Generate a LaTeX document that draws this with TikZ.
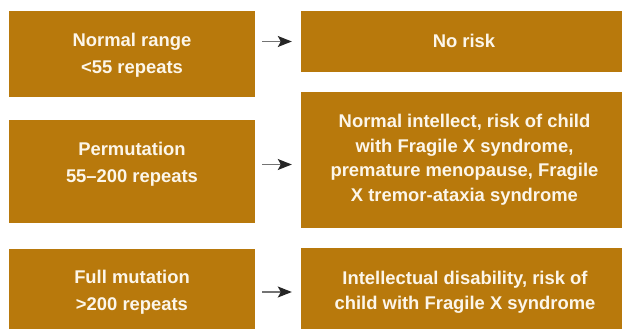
\documentclass[tikz,border=0pt]{standalone}
\usepackage{fontspec}
\setmainfont{Liberation Sans}
\usetikzlibrary{arrows.meta,calc}
\definecolor{gold}{RGB}{184,121,12}
\definecolor{cream}{RGB}{252,246,234}
\begin{document}
\begin{tikzpicture}[x=1pt,y=-1pt,
  box/.style={fill=gold, draw=none, inner sep=0pt},
  lbox/.style={box, minimum width=246pt},
  rbox/.style={box, minimum width=321pt},
  txtL/.style={text=cream, font=\bfseries\fontsize{18.4}{27}\selectfont, align=center, inner sep=0pt},
  txtR/.style={text=cream, font=\bfseries\fontsize{18.4}{24.5}\selectfont, align=center, inner sep=0pt},
  arr/.style={draw=black!55, line width=1.3pt, -{Stealth[length=14pt,width=11pt,inset=3pt,color=black!85]}}]
\useasboundingbox (0,0) rectangle (622,329);
% boxes
\node[lbox, minimum height=86pt]  (L1) at (132,54) {};
\node[rbox, minimum height=61pt]  (R1) at (461.5,41.5) {};
\node[lbox, minimum height=103pt] (L2) at (132,171.5) {};
\node[rbox, minimum height=136pt] (R2) at (461.5,160) {};
\node[lbox, minimum height=80pt]  (L3) at (132,289) {};
\node[rbox, minimum height=81pt]  (R3) at (461.5,288.5) {};
% texts
\node[txtL] (tL1) at (132,55) {Normal range\\<55 repeats};
\node[txtR] (tR1) at (464,41) {No risk};
\node[txtL] (tL2) at (132,164.5) {Permutation\\55--200 repeats};
\node[txtR] (tR2) at (464.5,159.5) {Normal intellect, risk of child\\with Fragile X syndrome,\\premature menopause, Fragile\\X tremor-ataxia syndrome};
\node[txtL] (tL3) at (132,292) {Full mutation\\>200 repeats};
\node[txtR] (tR3) at (465,292.5) {Intellectual disability, risk of\\child with Fragile X syndrome};
% arrows
\draw[arr] ([xshift=7pt]L1.east |- R1.west) -- ([xshift=-9pt]R1.west);
\draw[arr] ([xshift=7pt]L2.east |- tL2.center) -- ([xshift=-9pt]R2.west |- tL2.center);
\draw[arr] ([xshift=7pt]L3.east |- tL3.center) -- ([xshift=-9pt]R3.west |- tL3.center);
\end{tikzpicture}
\end{document}
